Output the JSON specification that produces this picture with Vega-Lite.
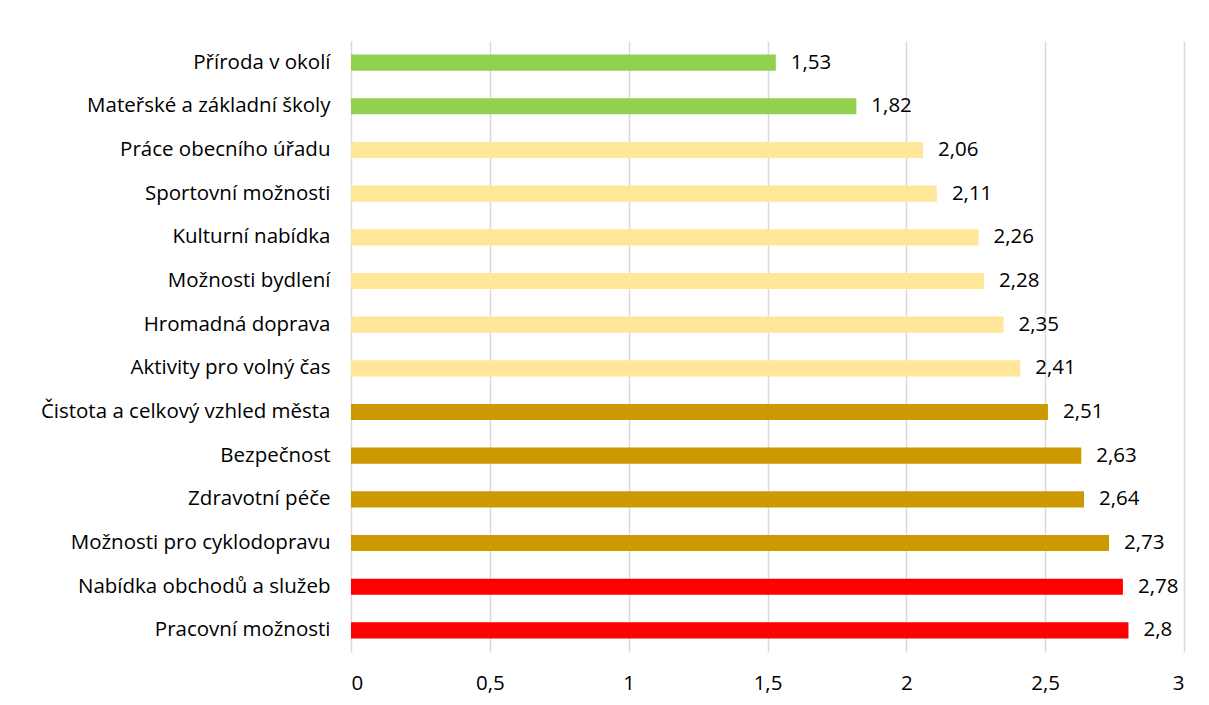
{
  "$schema": "https://vega.github.io/schema/vega-lite/v6.json",
  "width": 833,
  "height": 611,
  "autosize": {"type": "none"},
  "padding": {"left": 351, "top": 41, "right": 25, "bottom": 53},
  "background": "white",
  "config": {
    "view": {"stroke": null},
    "font": "Open Sans",
    "locale": {"number": {"decimal": ",", "thousands": " ", "grouping": [3], "currency": ["", " Kč"]}}
  },
  "data": {
    "values": [
      {"kategorie": "Příroda v okolí", "hodnota": 1.53, "skupina": "zelená"},
      {"kategorie": "Mateřské a základní školy", "hodnota": 1.82, "skupina": "zelená"},
      {"kategorie": "Práce obecního úřadu", "hodnota": 2.06, "skupina": "žlutá"},
      {"kategorie": "Sportovní možnosti", "hodnota": 2.11, "skupina": "žlutá"},
      {"kategorie": "Kulturní nabídka", "hodnota": 2.26, "skupina": "žlutá"},
      {"kategorie": "Možnosti bydlení\u2005", "hodnota": 2.28, "skupina": "žlutá"},
      {"kategorie": "Hromadná doprava", "hodnota": 2.35, "skupina": "žlutá"},
      {"kategorie": "Aktivity pro volný čas", "hodnota": 2.41, "skupina": "žlutá"},
      {"kategorie": "Čistota a celkový vzhled města\u2005", "hodnota": 2.51, "skupina": "zlatá"},
      {"kategorie": "Bezpečnost", "hodnota": 2.63, "skupina": "zlatá"},
      {"kategorie": "Zdravotní péče", "hodnota": 2.64, "skupina": "zlatá"},
      {"kategorie": "Možnosti pro cyklodopravu", "hodnota": 2.73, "skupina": "zlatá"},
      {"kategorie": "Nabídka obchodů a služeb", "hodnota": 2.78, "skupina": "červená"},
      {"kategorie": "Pracovní možnosti", "hodnota": 2.8, "skupina": "červená"}
    ]
  },
  "encoding": {
    "y": {
      "field": "kategorie", "type": "nominal", "sort": null,
      "scale": {"paddingInner": 0.63, "paddingOuter": 0.31},
      "axis": {"title": null, "ticks": false, "domain": true, "domainColor": "#D9D9D9", "labelPadding": 21, "labelFontSize": 20.5, "labelLimit": 400, "labelColor": "#000000", "labelFont": "Open Sans"}
    },
    "x": {
      "field": "hodnota", "type": "quantitative",
      "scale": {"domain": [0, 3], "nice": false},
      "axis": {"title": null, "values": [0, 0.5, 1, 1.5, 2, 2.5, 3], "format": "~g", "ticks": false, "domain": false, "grid": true, "gridColor": "#D9D9D9", "gridWidth": 1.5, "labelPadding": 21, "labelFontSize": 20.5, "labelColor": "#000000", "labelFont": "Open Sans"}
    }
  },
  "layer": [
    {
      "mark": {"type": "bar"},
      "encoding": {
        "color": {
          "field": "skupina", "type": "nominal", "legend": null,
          "scale": {"domain": ["zelená", "žlutá", "zlatá", "červená"], "range": ["#92D050", "#FFE699", "#CC9900", "#FF0000"]}
        }
      }
    },
    {
      "mark": {"type": "text", "align": "left", "baseline": "middle", "dx": 15, "fontSize": 20.5, "font": "Open Sans", "color": "#000000"},
      "encoding": {
        "text": {"field": "hodnota", "type": "quantitative", "format": "~g"}
      }
    }
  ]
}
